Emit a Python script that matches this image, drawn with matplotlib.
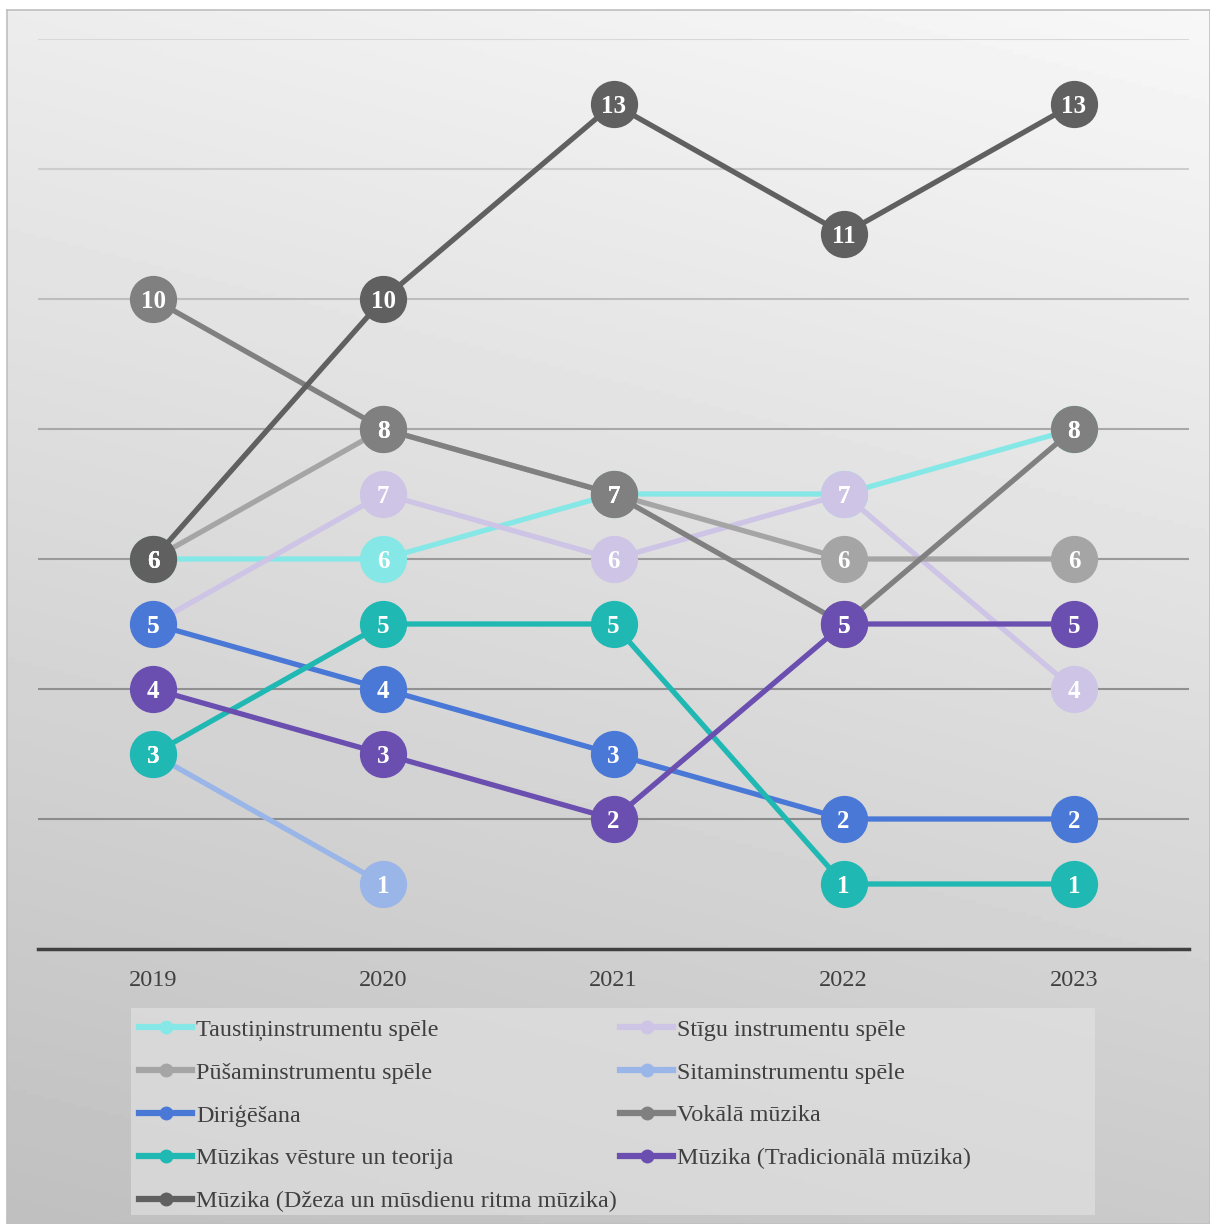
import numpy as np
import matplotlib.pyplot as plt
from matplotlib.lines import Line2D
from matplotlib.patches import Rectangle

# Data
years = ['2019', '2020', '2021', '2022', '2023']
series_names = [
    'Taustiņinstrumentu spēle',
    'Stīgu instrumentu spēle',
    'Pūšaminstrumentu spēle',
    'Sitaminstrumentu spēle',
    'Diriģēšana',
    'Vokālā mūzika',
    'Mūzikas vēsture un teorija',
    'Mūzika (Tradicionālā mūzika)',
    'Mūzika (Džeza un mūsdienu ritma mūzika)',
]
taustinu = [6, 6, 7, 7, 8]
stigu = [5, 7, 6, 7, 4]
pusam = [6, 8, 7, 6, 6]
sitam = [3, 1, None, None, None]
dirigesana = [5, 4, 3, 2, 2]
vokala = [10, 8, 7, 5, 8]
vesture = [3, 5, 5, 1, 1]
tradicionala = [4, 3, 2, 5, 5]
dzezs = [6, 10, 13, 11, 13]
all_series = [taustinu, stigu, pusam, sitam, dirigesana, vokala, vesture, tradicionala, dzezs]

colors = ['#86E8E6', '#CDC4E6', '#A5A5A5', '#9AB5E8', '#4A78D6',
          '#808080', '#1FB8B3', '#6A4FB0', '#606060']

plt.rcParams['font.family'] = ['Liberation Serif', 'DejaVu Serif']

fig = plt.figure(figsize=(12.1, 12.24), dpi=100)

# gradient background
bg = fig.add_axes([7 / 1210, 0, 1 - 7 / 1210, 1 - 10 / 1224])
gx, gy = np.meshgrid(np.linspace(0, 1, 300), np.linspace(0, 1, 300))
t = 0.8 * gy + 0.2 * gx  # 0 bottom-left, 1 top-right
shade = 0.75 + t * (0.97 - 0.75)
bg.imshow(shade, cmap='gray', vmin=0, vmax=1, origin='lower', aspect='auto',
          extent=[0, 1, 0, 1])
bg.set_xticks([])
bg.set_yticks([])
for s in bg.spines.values():
    s.set_color('#BFBFBF')
    s.set_linewidth(1.2)
bg.set_zorder(0)

ax = fig.add_axes([38 / 1210, 1 - 949 / 1224, (1189 - 38) / 1210, (949 - 39) / 1224])
ax.set_zorder(1)
ax.patch.set_alpha(0)

x = np.arange(len(years))
for vals, name, col in zip(all_series, series_names, colors):
    xs = [i for i, v in zip(x, vals) if v is not None]
    ys = [v for v in vals if v is not None]
    ax.plot(xs, ys, color=col, lw=3.8, marker='o', markersize=34,
            markeredgewidth=0, solid_capstyle='round', label=name)
    for xi, yi in zip(xs, ys):
        ax.text(xi, yi, str(yi), color='white', fontsize=18, fontweight='bold',
                ha='center', va='center_baseline')

ax.set_xlim(-0.5, len(years) - 0.5)
ax.set_ylim(0, 14)
ax.set_yticks(np.arange(2, 15, 2))
ax.tick_params(axis='y', left=False, labelleft=False)
ax.set_xticks(x)
ax.set_xticklabels(years, fontsize=17.5, color='#404040')
ax.tick_params(axis='x', length=0, pad=15)
ax.grid(axis='y', lw=1.5)
ax.set_axisbelow(True)
grid_cols = ['#8C8C8C', '#909090', '#9A9A9A', '#A8A8A8', '#BDBDBD', '#CDCDCD', '#D8D8D8']
for gl, gc in zip(ax.yaxis.get_gridlines(), grid_cols):
    gl.set_color(gc)
for side in ['top', 'right', 'left']:
    ax.spines[side].set_visible(False)
ax.spines['bottom'].set_color('#404040')
ax.spines['bottom'].set_linewidth(2.5)

# legend background box
fig.patches.append(Rectangle((131 / 1210, 1 - 1215 / 1224), (1095 - 131) / 1210, (1215 - 1008) / 1224,
                             transform=fig.transFigure, facecolor='#E4E4E4', alpha=0.6,
                             edgecolor='none', zorder=2))

# legend, row-major order like the reference
handles = [Line2D([], [], color=c, lw=4.5, marker='o', markersize=10, markeredgewidth=0)
           for c in colors]
order = [0, 2, 4, 6, 8, 1, 3, 5, 7]
leg = fig.legend([handles[i] for i in order], [series_names[i] for i in order],
                 ncol=2, loc='upper left',
                 bbox_to_anchor=(139 / 1210, 1 - 1019 / 1224),
                 frameon=False, fontsize=17.4, handlelength=2.2, handletextpad=0.15,
                 labelspacing=0.86, columnspacing=0.15, borderpad=0,
                 borderaxespad=0)
leg.set_zorder(3)
for txt in leg.get_texts():
    txt.set_color('#404040')

fig.savefig('out.png', dpi=100)
